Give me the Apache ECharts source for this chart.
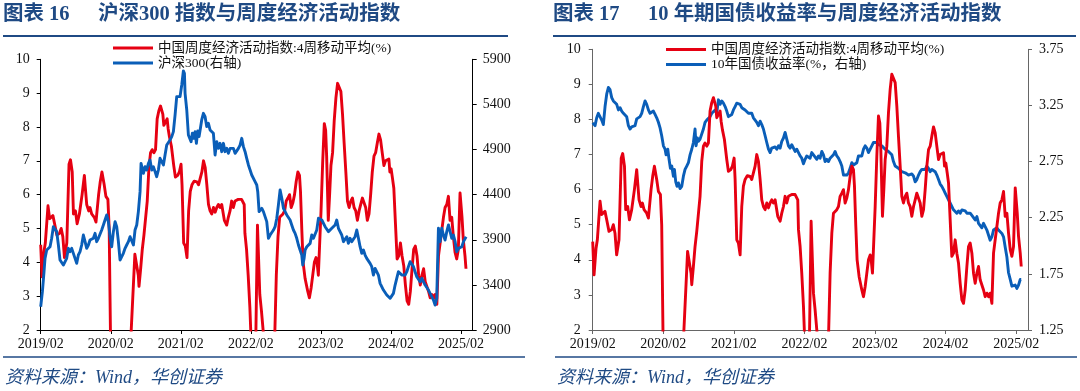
<!DOCTYPE html>
<html>
<head>
<meta charset="utf-8">
<script src="https://cdn.jsdelivr.net/npm/echarts@6/dist/echarts.min.js"></script>
<style>
html,body{margin:0;padding:0;background:#fff;}
#chart{width:1080px;height:391px;}
</style>
</head>
<body>
<div id="chart"></div>
<script>
// x values are months since 2019/02
const xTickMonths = [0, 12, 24, 36, 48, 60, 72];
const xTickLabels = ['2019/02', '2020/02', '2021/02', '2022/02', '2023/02', '2024/02', '2025/02'];
const leftTicks = [2, 3, 4, 5, 6, 7, 8, 9, 10];
const hs300Ticks = [2900, 3400, 3900, 4400, 4900, 5400, 5900];
const yieldTicks = [1.25, 1.75, 2.25, 2.75, 3.25, 3.75];

const redName = '中国周度经济活动指数:4周移动平均(%)';
const hsName = '沪深300(右轴)';
const yieldName = '10年国债收益率(%，右轴)';

// 中国周度经济活动指数:4周移动平均(%)  [month, value]
const activityIndex = [
[0,4.52],[0.23,3.57],[0.57,4.33],[0.79,4.57],[1.25,5.67],[1.53,5.29],[1.81,5.29],[2.09,5.38],[2.38,5.14],[2.77,4.81],
[3.23,4.86],[3.51,5.0],[3.79,4.76],[4.07,4.14],[4.47,4.57],[4.85,6.9],[5.1,7.03],[5.4,6.67],[5.61,5.43],[5.95,5.52],
[6.24,5.14],[6.63,5.43],[7.09,6.0],[7.48,6.57],[7.65,6.19],[7.88,5.71],[8.22,5.52],[8.45,5.62],[8.73,5.43],[9.18,5.33],
[9.47,5.19],[9.92,6.0],[10.2,6.38],[10.49,6.67],[10.88,6.29],[11.17,5.95],[11.51,5.86],[11.73,5.0],[12.3,-3],[13,-8],
[14,-6],[15.2,0.9],[16.13,4.24],[16.38,4.19],[16.72,3.62],[16.84,3.29],[17.12,3.81],[17.4,4.38],[17.69,4.81],[17.97,4.86],
[18.25,5.81],[18.54,6.81],[18.82,7.24],[19.1,7.33],[19.39,7.24],[19.67,7.33],[19.95,8.24],[20.24,8.48],[20.52,8.62],[20.69,8.67],
[20.92,8.38],[21.09,8.05],[21.37,8.0],[21.66,8.24],[21.83,7.95],[22.05,7.71],[22.39,7.43],[22.79,6.86],[23.07,6.52],[23.47,6.57],
[23.75,6.67],[24.04,6.9],[24.21,6.29],[24.49,4.57],[24.77,4.48],[25.06,4.14],[25.34,5.52],[25.62,6.1],[25.91,6.29],[26.3,6.4],
[26.76,6.38],[27.04,6.29],[27.32,6.48],[27.61,6.67],[27.89,7.0],[28.17,6.81],[28.46,6.29],[28.74,5.71],[29.02,5.52],[29.31,5.43],
[29.59,5.62],[29.88,5.48],[30.16,5.62],[30.44,5.71],[30.73,5.62],[31.01,5.71],[31.46,5.24],[31.86,5.1],[32.14,5.33],[32.43,5.52],
[32.71,5.81],[32.99,5.62],[33.28,5.81],[33.56,5.76],[33.84,5.86],[34.13,5.81],[34.41,5.86],[34.69,5.86],[34.86,5.71],[34.98,4.86],
[35.26,4.38],[35.54,3.62],[35.83,2.67],[36.3,0.5],[36.7,0],[37.13,5.1],[37.53,3.05],[37.81,2.57],[38.7,0.8],[39.5,-1],
[39.85,0.2],[40.36,3.62],[40.65,4.76],[40.93,5.33],[41.21,5.38],[41.5,5.43],[41.78,5.52],[42.06,5.81],[42.35,5.9],[42.63,6.0],
[42.91,5.62],[43.2,5.76],[43.48,6.0],[43.76,6.38],[44.05,6.67],[44.33,6.57],[44.5,6.1],[44.73,4.95],[44.95,4.0],[45.29,3.52],
[45.75,3.14],[46.03,2.95],[46.32,3.24],[46.6,3.62],[46.88,4.0],[47.17,4.14],[47.34,4.0],[47.56,3.62],[47.79,4.57],[48.02,5.52],
[48.3,6.95],[48.58,8.1],[48.81,7.9],[48.98,7.14],[49.26,5.24],[49.49,6.0],[49.72,6.86],[50.0,7.24],[50.28,8.19],[50.57,8.86],
[50.85,9.29],[51.13,9.33],[51.42,9.05],[51.7,8.38],[51.98,7.52],[52.27,6.67],[52.55,5.81],[52.83,5.62],[53.12,5.81],[53.4,5.9],
[53.68,5.62],[53.97,5.52],[54.25,5.24],[54.54,5.52],[54.82,5.71],[55.1,5.9],[55.39,5.86],[55.67,5.62],[55.95,5.24],[56.24,5.43],
[56.52,6.0],[56.8,6.67],[57.09,7.14],[57.37,7.24],[57.65,7.52],[57.94,7.79],[58.22,7.62],[58.5,7.24],[58.79,6.86],[59.07,7.0],
[59.35,6.95],[59.64,7.05],[59.81,6.67],[60.03,6.76],[60.26,6.48],[60.49,6.19],[60.77,5.14],[61.05,4.1],[61.34,4.19],[61.62,4.57],
[61.9,4.19],[62.19,3.9],[62.47,3.33],[62.76,2.86],[63.04,2.76],[63.32,3.14],[63.61,3.81],[63.89,4.38],[64.17,4.48],[64.46,4.19],
[64.74,3.62],[65.02,3.33],[65.31,3.62],[65.59,3.81],[65.87,3.43],[66.16,3.43],[66.44,3.14],[66.72,2.95],[67.01,3.05],[67.29,2.95],
[67.57,3.05],[67.86,2.76],[68.14,4.19],[68.42,4.57],[68.71,4.95],[68.99,5.33],[69.27,5.62],[69.56,5.71],[69.84,5.95],[70.12,5.24],
[70.41,5.33],[70.69,4.76],[70.98,4.29],[71.26,4.1],[71.54,4.38],[71.83,6.05],[72.0,6.1],[72.17,5.33],[72.39,4.67],[72.68,4.19],
[72.85,3.81]
];

// 沪深300 (右轴) [month, value]
const hs300 = [
[0,3158],[0.29,3325],[0.57,3546],[0.74,3694],[1.03,3787],[1.31,3768],[1.6,3823],[1.88,3916],[2.17,4045],[2.46,4064],
[2.74,3990],[3.03,3842],[3.31,3676],[3.6,3657],[3.88,3620],[4.17,3602],[4.45,3694],[4.74,3805],[5.02,3768],[5.31,3805],
[5.6,3787],[5.88,3694],[6.17,3639],[6.45,3731],[6.74,3768],[7.02,3842],[7.31,3953],[7.6,3879],[7.88,3805],[8.17,3842],
[8.45,3897],[8.74,3879],[9.02,3916],[9.31,3971],[9.59,3879],[9.88,3916],[10.17,3934],[10.45,4008],[10.74,4064],[11.02,4119],
[11.31,4175],[11.59,4101],[11.88,3934],[12.16,3823],[12.45,3990],[12.74,4101],[13.02,4045],[13.31,3879],[13.59,3676],[13.88,3657],
[14.16,3750],[14.45,3805],[14.73,3842],[15.02,3879],[15.31,3934],[15.59,3916],[15.88,3842],[16.16,4008],[16.45,4064],[16.73,4212],
[17.02,4433],[17.19,4747],[17.42,4729],[17.59,4636],[17.88,4710],[18.16,4673],[18.45,4747],[18.73,4784],[19.02,4673],[19.3,4710],
[19.59,4655],[19.87,4599],[20.16,4673],[20.44,4803],[20.73,4784],[21.02,4729],[21.3,4840],[21.59,4950],[21.87,4969],[22.16,5006],
[22.45,5043],[22.73,5098],[23.02,5283],[23.3,5486],[23.59,5505],[23.87,5486],[24.16,5615],[24.44,5771],[24.62,5745],[24.73,5523],
[25.02,5338],[25.3,5061],[25.59,5043],[25.76,4987],[25.98,5080],[26.21,5024],[26.44,5098],[26.67,4969],[26.9,5106],[27.13,5043],
[27.36,5135],[27.58,5228],[27.87,5301],[28.16,5264],[28.44,5154],[28.73,5191],[29.01,5117],[29.3,5135],[29.58,5080],[29.87,4840],
[30.16,4987],[30.44,4913],[30.73,4969],[31.01,4876],[31.3,4969],[31.58,4876],[31.87,4913],[32.15,4858],[32.44,4913],[32.72,4895],
[33.01,4913],[33.3,4858],[33.58,4876],[33.87,4913],[34.15,4950],[34.44,5024],[34.72,4932],[35.01,4876],[35.29,4803],[35.58,4729],
[35.87,4673],[36.15,4618],[36.44,4599],[36.72,4544],[37.01,4507],[37.18,4433],[37.41,4212],[37.64,4230],[37.86,4249],[38.15,4212],
[38.44,4193],[38.72,4101],[39.01,3916],[39.3,3953],[39.58,3971],[39.87,4008],[40.15,4045],[40.44,4138],[40.72,4286],[41.01,4452],
[41.3,4360],[41.58,4249],[41.87,4212],[42.15,4175],[42.44,4156],[42.72,4119],[43.0,4064],[43.29,4008],[43.58,3971],[43.86,3916],
[44.15,3842],[44.43,3787],[44.72,3731],[44.89,3620],[45.12,3694],[45.29,3787],[45.58,3823],[45.86,3805],[46.15,3860],[46.43,3953],
[46.72,3916],[47.01,3934],[47.29,4008],[47.58,4138],[47.86,4156],[48.15,4119],[48.43,4101],[48.72,4045],[49.0,4064],[49.29,3990],
[49.57,3971],[49.86,4027],[50.14,4045],[50.43,4064],[50.71,4119],[51.0,4027],[51.28,3990],[51.57,3953],[51.86,3879],[52.14,3897],
[52.43,3934],[52.71,3860],[53.0,3916],[53.28,3879],[53.57,3897],[53.85,3934],[54.14,4008],[54.43,3916],[54.71,3823],[55.0,3750],
[55.28,3787],[55.57,3731],[55.85,3694],[56.14,3676],[56.42,3639],[56.71,3602],[56.99,3509],[57.28,3583],[57.57,3565],[57.85,3509],
[58.14,3417],[58.42,3398],[58.71,3343],[58.99,3325],[59.28,3288],[59.56,3269],[59.85,3251],[60.14,3232],[60.42,3306],[60.71,3398],
[60.99,3472],[61.28,3546],[61.56,3565],[61.85,3509],[62.14,3528],[62.42,3509],[62.71,3546],[62.99,3602],[63.28,3657],[63.56,3657],
[63.85,3602],[64.13,3546],[64.42,3491],[64.71,3509],[64.99,3435],[65.28,3472],[65.56,3491],[65.85,3398],[66.13,3417],[66.42,3343],
[66.7,3306],[66.99,3288],[67.28,3232],[67.56,3177],[67.84,3250],[68.13,4027],[68.42,3879],[68.7,4027],[68.99,3953],[69.27,3897],
[69.56,3990],[69.85,4064],[70.13,3990],[70.42,3916],[70.7,3953],[70.99,3879],[71.27,3768],[71.56,3805],[71.84,3823],[72.13,3823],
[72.42,3879],[72.87,3934]
];

// 10年国债收益率 (%, 右轴) [month, value]
const bondYield = [
[0,3.095],[0.4,3.07],[0.68,3.14],[0.96,3.18],[1.25,3.17],[1.53,3.12],[1.81,3.08],[2.1,3.24],[2.38,3.35],[2.66,3.41],
[2.95,3.39],[3.23,3.32],[3.51,3.29],[3.8,3.3],[4.08,3.26],[4.37,3.21],[4.65,3.23],[4.93,3.2],[5.22,3.18],[5.5,3.17],
[5.78,3.15],[6.07,3.07],[6.35,3.04],[6.63,3.06],[6.92,3.05],[7.2,3.07],[7.48,3.13],[7.77,3.14],[8.05,3.15],[8.33,3.18],
[8.62,3.24],[8.9,3.29],[9.18,3.26],[9.47,3.21],[9.75,3.18],[10.03,3.17],[10.32,3.2],[10.6,3.17],[10.88,3.14],[11.17,3.1],
[11.45,3.05],[11.73,2.98],[12.02,2.89],[12.3,2.86],[12.47,2.81],[12.76,2.86],[12.98,2.77],[13.21,2.69],[13.44,2.71],[13.72,2.62],
[13.89,2.68],[14.12,2.57],[14.34,2.53],[14.57,2.56],[14.85,2.51],[15.14,2.53],[15.42,2.62],[15.7,2.68],[15.99,2.71],[16.27,2.74],
[16.55,2.81],[16.84,2.86],[17.12,2.92],[17.4,3.04],[17.57,2.89],[17.8,2.96],[17.97,2.93],[18.25,2.95],[18.54,2.96],[18.82,3.04],
[19.1,3.1],[19.39,3.12],[19.67,3.12],[19.95,3.15],[20.24,3.18],[20.52,3.17],[20.81,3.21],[21.09,3.18],[21.37,3.3],[21.66,3.26],
[21.94,3.29],[22.22,3.27],[22.51,3.24],[22.79,3.2],[23.07,3.15],[23.36,3.14],[23.64,3.17],[23.92,3.21],[24.21,3.24],[24.49,3.27],
[24.77,3.27],[25.06,3.26],[25.34,3.23],[25.62,3.24],[25.91,3.21],[26.19,3.2],[26.47,3.18],[26.76,3.17],[27.04,3.18],[27.32,3.14],
[27.61,3.12],[27.89,3.1],[28.17,3.07],[28.46,3.11],[28.74,3.08],[29.02,3.04],[29.31,2.98],[29.59,2.92],[29.88,2.86],[30.16,2.83],
[30.44,2.87],[30.73,2.86],[31.01,2.88],[31.29,2.86],[31.58,2.89],[31.86,2.87],[32.14,2.93],[32.43,2.96],[32.71,3.01],[32.99,2.95],
[33.28,2.89],[33.56,2.87],[33.84,2.9],[34.13,2.89],[34.41,2.84],[34.69,2.86],[34.98,2.83],[35.26,2.8],[35.54,2.78],[35.83,2.73],
[36.11,2.77],[36.39,2.8],[36.68,2.81],[36.96,2.78],[37.24,2.83],[37.53,2.81],[37.81,2.8],[38.1,2.77],[38.38,2.8],[38.66,2.78],
[38.95,2.84],[39.23,2.81],[39.51,2.75],[39.8,2.77],[40.08,2.75],[40.36,2.78],[40.65,2.77],[40.93,2.81],[41.21,2.84],[41.5,2.8],
[41.78,2.78],[42.06,2.75],[42.35,2.71],[42.63,2.63],[42.91,2.62],[43.2,2.63],[43.48,2.65],[43.76,2.69],[44.05,2.74],[44.33,2.72],
[44.61,2.71],[44.9,2.74],[45.18,2.8],[45.46,2.81],[45.75,2.8],[46.03,2.86],[46.32,2.89],[46.6,2.87],[46.88,2.83],[47.17,2.84],
[47.45,2.89],[47.73,2.92],[48.02,2.93],[48.3,2.92],[48.58,2.9],[48.87,2.91],[49.15,2.89],[49.43,2.89],[49.72,2.86],[50.0,2.85],
[50.28,2.84],[50.57,2.83],[50.85,2.81],[51.13,2.75],[51.42,2.71],[51.7,2.71],[51.98,2.69],[52.27,2.68],[52.55,2.66],[52.83,2.65],
[53.12,2.65],[53.4,2.64],[53.68,2.63],[53.97,2.63],[54.25,2.64],[54.54,2.62],[54.82,2.57],[55.1,2.59],[55.39,2.63],[55.67,2.66],
[55.95,2.68],[56.24,2.69],[56.52,2.68],[56.8,2.71],[57.09,2.69],[57.37,2.66],[57.65,2.68],[57.94,2.68],[58.22,2.66],[58.5,2.63],
[58.79,2.59],[59.07,2.55],[59.35,2.53],[59.64,2.5],[59.92,2.47],[60.2,2.44],[60.49,2.41],[60.77,2.4],[61.05,2.35],[61.34,2.32],
[61.62,2.31],[61.9,2.29],[62.19,2.31],[62.47,2.29],[62.76,2.32],[63.04,2.31],[63.32,2.31],[63.61,2.29],[63.89,2.28],[64.17,2.29],
[64.46,2.27],[64.74,2.25],[65.02,2.23],[65.31,2.26],[65.59,2.2],[65.87,2.21],[66.16,2.16],[66.44,2.2],[66.72,2.17],[67.01,2.14],
[67.29,2.13],[67.57,2.05],[67.86,2.08],[68.14,2.14],[68.42,2.15],[68.71,2.16],[68.99,2.14],[69.27,2.15],[69.56,2.11],[69.84,2.08],
[70.12,1.99],[70.41,1.9],[70.69,1.76],[70.98,1.7],[71.26,1.64],[71.54,1.63],[71.83,1.65],[72.11,1.62],[72.39,1.65],[72.68,1.7],
[72.85,1.7]
];

const RED = '#E60012';
const BLUE = '#0A5EB8';
const NAVY = '#1F4A84';
const NUM_FONT = "'Liberation Serif', 'Noto Sans CJK SC', serif";

function xAxisCfg(gridIndex, axisColor) {
  return {
    type: 'value', gridIndex: gridIndex, min: 0, max: 74,
    splitLine: { show: false },
    axisLine: { lineStyle: { color: axisColor, width: 1 } },
    axisTick: { customValues: xTickMonths, length: 4, lineStyle: { color: axisColor } },
    axisLabel: {
      customValues: xTickMonths, margin: 7, fontSize: 14, color: '#111', fontFamily: NUM_FONT,
      formatter: function (v) { const i = xTickMonths.indexOf(v); return i >= 0 ? xTickLabels[i] : ''; }
    }
  };
}
function yAxisCfg(gridIndex, position, ticks, axisColor, margin, fmt) {
  return {
    type: 'value', gridIndex: gridIndex, position: position,
    min: ticks[0], max: ticks[ticks.length - 1],
    splitLine: { show: false },
    axisLine: { show: true, lineStyle: { color: axisColor, width: 1 } },
    axisTick: { show: true, customValues: ticks, length: 4, lineStyle: { color: axisColor } },
    axisLabel: { customValues: ticks, margin: margin, fontSize: 14, color: '#111', fontFamily: NUM_FONT,
      formatter: fmt || function (v) { return String(v); } }
  };
}
function lineSeries(name, data, color, xi, yi, z) {
  return {
    name: name, type: 'line', data: data, xAxisIndex: xi, yAxisIndex: yi,
    showSymbol: false, symbol: 'none', smooth: false, clip: true, z: z,
    lineStyle: { color: color, width: 2.9, join: 'round' }, itemStyle: { color: color }
  };
}
const legendText = { fontSize: 13.5, color: '#111', fontFamily: NUM_FONT, lineHeight: 14 };
const TITLE_FONT = "bold 20.5px 'Liberation Serif', 'Noto Sans CJK SC'";
const SRC_FONT = "italic 18px 'Liberation Serif', 'Noto Sans CJK SC'";

const chart = echarts.init(document.getElementById('chart'), null, { renderer: 'canvas' });
chart.setOption({
  animation: false,
  backgroundColor: '#fff',
  grid: [
    { left: 40.7, right: 607.3, top: 59.3, bottom: 61 },
    { left: 592.7, right: 52, top: 49.3, bottom: 61 }
  ],
  legend: [
    { data: [redName, hsName], orient: 'vertical', left: 113, top: 41, itemWidth: 40, itemHeight: 3,
      icon: 'rect', itemGap: 1, textStyle: legendText, selectedMode: false, padding: 0 },
    { data: [redName, yieldName], orient: 'vertical', left: 666, top: 42.5, itemWidth: 40, itemHeight: 3,
      icon: 'rect', itemGap: 1, textStyle: legendText, selectedMode: false, padding: 0 }
  ],
  xAxis: [xAxisCfg(0, '#000'), xAxisCfg(1, '#666')],
  yAxis: [
    yAxisCfg(0, 'left', leftTicks, '#000', 11),
    yAxisCfg(0, 'right', hs300Ticks, '#000', 10),
    yAxisCfg(1, 'left', leftTicks, '#666', 12),
    yAxisCfg(1, 'right', yieldTicks, '#666', 11, function (v) { return v.toFixed(2); })
  ],
  series: [
    lineSeries(redName, activityIndex, RED, 0, 0, 2),
    lineSeries(hsName, hs300, BLUE, 0, 1, 3),
    lineSeries(yieldName, bondYield, BLUE, 1, 3, 2),
    lineSeries(redName, activityIndex, RED, 1, 2, 3)
  ],
  graphic: [
    { type: 'text', x: 3, y: 15, style: { text: '图表 16', fill: NAVY, font: TITLE_FONT, verticalAlign: 'middle' } },
    { type: 'text', x: 98, y: 15, style: { text: '沪深300 指数与周度经济活动指数', fill: NAVY, font: TITLE_FONT, verticalAlign: 'middle' } },
    { type: 'text', x: 553, y: 15, style: { text: '图表 17', fill: NAVY, font: TITLE_FONT, verticalAlign: 'middle' } },
    { type: 'text', x: 648, y: 15, style: { text: '10 年期国债收益率与周度经济活动指数', fill: NAVY, font: TITLE_FONT, verticalAlign: 'middle' } },
    { type: 'line', shape: { x1: 3, y1: 36, x2: 508, y2: 36 }, style: { stroke: NAVY, lineWidth: 2 } },
    { type: 'line', shape: { x1: 553, y1: 36, x2: 1076, y2: 36 }, style: { stroke: NAVY, lineWidth: 2 } },
    { type: 'line', shape: { x1: 3, y1: 357, x2: 525, y2: 357 }, style: { stroke: NAVY, lineWidth: 1.5 } },
    { type: 'line', shape: { x1: 555, y1: 357, x2: 1077, y2: 357 }, style: { stroke: NAVY, lineWidth: 1.5 } },
    { type: 'text', x: 5, y: 378, style: { text: '资料来源：Wind，华创证券', fill: NAVY, font: SRC_FONT, verticalAlign: 'middle' } },
    { type: 'text', x: 557, y: 378, style: { text: '资料来源：Wind，华创证券', fill: NAVY, font: SRC_FONT, verticalAlign: 'middle' } }
  ]
});
</script>
</body>
</html>
